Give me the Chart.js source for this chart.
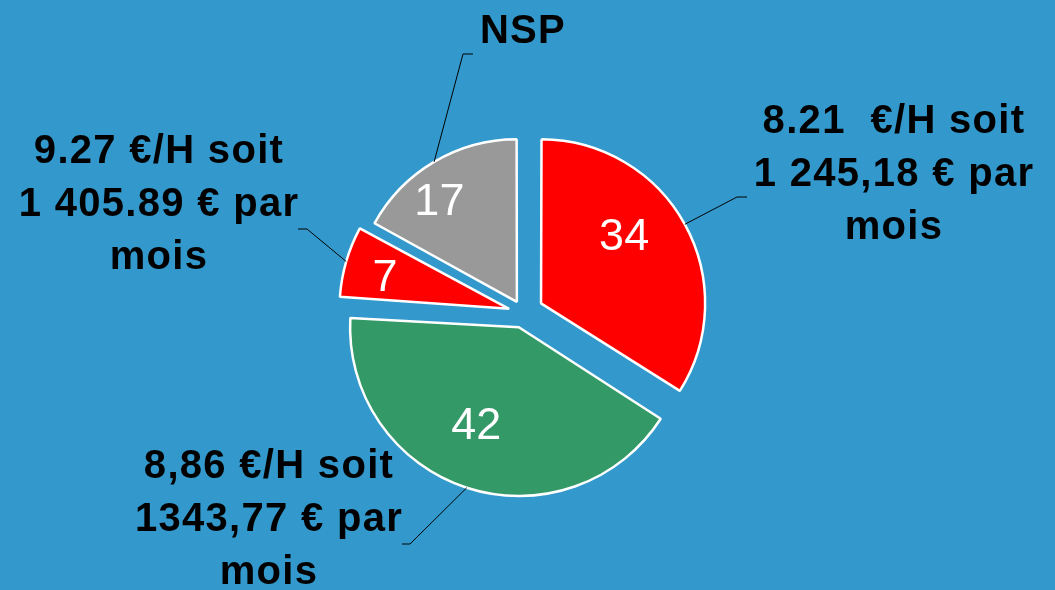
<!DOCTYPE html>
<html>
<head>
<meta charset="utf-8">
<script src="https://cdn.jsdelivr.net/npm/chart.js@4/dist/chart.umd.min.js"></script>
<style>
  html, body { margin: 0; padding: 0; background: #3399cc; }
  #wrap { width: 1055px; height: 590px; position: relative; }
</style>
</head>
<body>
<div id="wrap"><canvas id="c"></canvas></div>
<script>
// ---- data ----
const categories = ["8.21 €/H", "8,86 €/H", "9.27 €/H", "NSP"];
const values = [34, 42, 7, 17];
const sliceColors = ["#ff0000", "#339966", "#ff0000", "#999999"];
const calloutLines = [
  ["8.21  €/H soit", "1 245,18 € par", "mois"],
  ["8,86 €/H soit", "1343,77 € par", "mois"],
  ["9.27 €/H soit", "1 405.89 € par", "mois"],
  ["NSP"]
];

// ---- layout (not data) ----
const explode = [20, 15, 15, 13];              // px each slice is pulled out
const labelShiftDeg = [-8.9, 5, -1.5, -6.3];    // value label angle tweak
const labelRadiusFrac = [0.79, 0.75, 0.89, 0.87];
const calloutPos = [                            // text centre x, first baseline y
  {x: 893, y: 133}, {x: 268, y: 478}, {x: 158, y: 163}, {x: 522, y: 43}
];
const calloutElbow = [                          // leader line elbow + end
  [[737, 197], [747, 197]],
  [[410, 544], [402, 544]],
  [[307, 229], [298, 229]],
  [[463, 54], [473, 54]]
];
const lineGap = 53;

const labelsPlugin = {
  id: 'pieLabels',
  afterDatasetsDraw(chart) {
    const ctx = chart.ctx;
    const meta = chart.getDatasetMeta(0);
    meta.data.forEach((arc, i) => {
      const mid = (arc.startAngle + arc.endAngle) / 2;
      const circ = arc.endAngle - arc.startAngle;
      const off = explode[i];
      const fix = 1 - Math.sin(Math.min(Math.PI, circ));
      const R = arc.outerRadius + off * fix;
      const cx = arc.x + Math.cos(mid) * off;
      const cy = arc.y + Math.sin(mid) * off;

      // leader line
      const sx = cx + Math.cos(mid) * R;
      const sy = cy + Math.sin(mid) * R;
      ctx.save();
      ctx.strokeStyle = '#000';
      ctx.lineWidth = 1;
      ctx.beginPath();
      ctx.moveTo(sx, sy);
      ctx.lineTo(calloutElbow[i][0][0], calloutElbow[i][0][1]);
      ctx.lineTo(calloutElbow[i][1][0], calloutElbow[i][1][1]);
      ctx.stroke();
      ctx.restore();

      // value label inside slice
      const la = mid + labelShiftDeg[i] * Math.PI / 180;
      const lr = arc.outerRadius * labelRadiusFrac[i];
      ctx.save();
      ctx.fillStyle = '#ffffff';
      ctx.font = '45px "Liberation Sans", Arial, sans-serif';
      ctx.textAlign = 'center';
      ctx.textBaseline = 'middle';
      ctx.fillText(String(values[i]), arc.x + Math.cos(la) * lr, arc.y + Math.sin(la) * lr + 2);
      ctx.restore();

      // callout text
      ctx.save();
      ctx.fillStyle = '#000000';
      ctx.font = 'bold 40px "Liberation Sans", Arial, sans-serif';
      ctx.letterSpacing = '1.3px';
      ctx.textAlign = 'center';
      ctx.textBaseline = 'alphabetic';
      calloutLines[i].forEach((t, k) => {
        ctx.fillText(t, calloutPos[i].x + 1, calloutPos[i].y + k * lineGap);
      });
      ctx.restore();
    });
  }
};

new Chart(document.getElementById('c'), {
  type: 'pie',
  data: {
    labels: categories,
    datasets: [{
      data: values,
      backgroundColor: sliceColors,
      borderColor: '#ffffff',
      borderWidth: 2.5,
      offset: explode.map(d => d * 4),
      hoverOffset: 0
    }]
  },
  options: {
    responsive: true,
    maintainAspectRatio: false,
    animation: false,
    events: [],
    radius: 161,
    rotation: 0,
    layout: { padding: { left: 0, right: 8, top: 36, bottom: 0 } },
    plugins: {
      legend: { display: false },
      tooltip: { enabled: false },
      title: { display: false }
    }
  },
  plugins: [labelsPlugin]
});
</script>
</body>
</html>
